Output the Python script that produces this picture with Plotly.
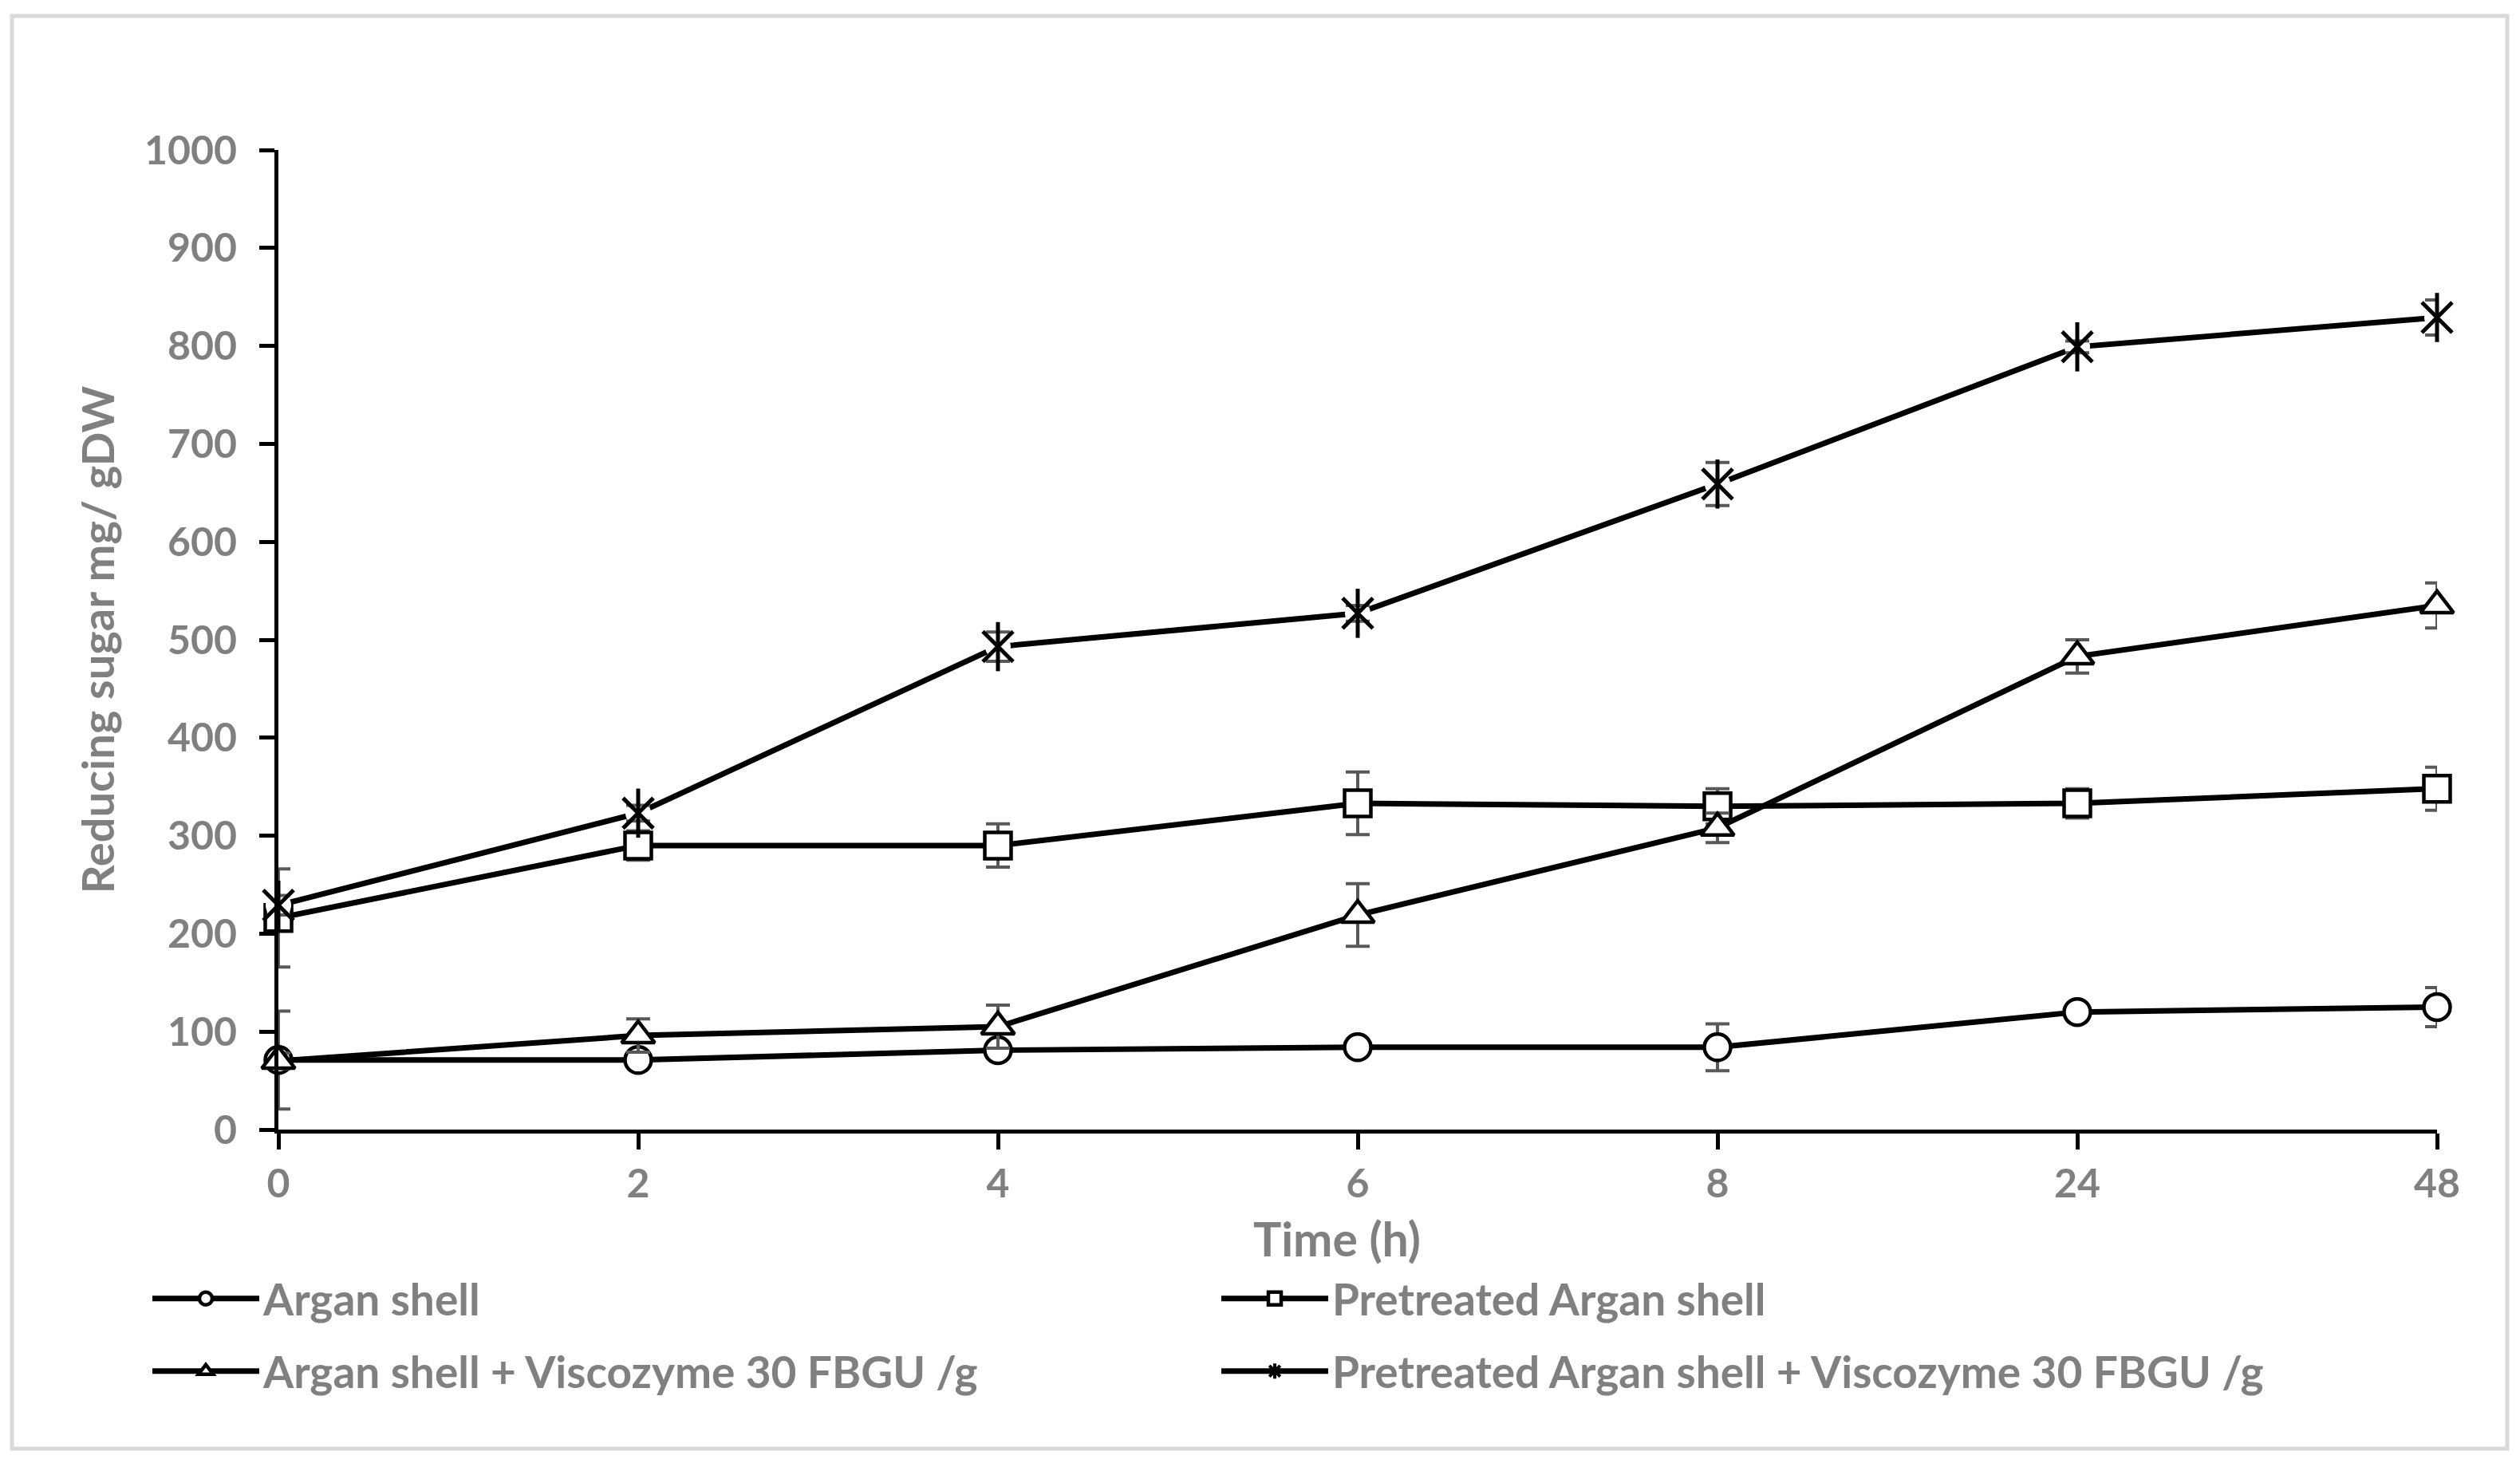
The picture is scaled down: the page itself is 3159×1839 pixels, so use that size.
import plotly.graph_objects as go

# ---- data ----
time_labels = ["0", "2", "4", "6", "8", "24", "48"]

argan = [71, 71, 81, 84, 84, 120, 125]
argan_err = [50, 6, 6, 6, 24, 6, 20]

pre_argan = [216, 290, 290, 333, 330, 333, 348]
pre_argan_err = [50, 15, 22, 32, 18, 15, 22]

argan_visc = [70, 96, 105, 219, 308, 483, 535]
argan_visc_err = [8, 17, 22, 32, 15, 17, 23]

pre_visc = [229, 323, 493, 527, 659, 799, 829]
pre_visc_err = [10, 8, 15, 8, 22, 6, 18]

names = [
    "Argan shell",
    "Pretreated Argan shell",
    "Argan shell + Viscozyme 30 FBGU /g",
    "Pretreated Argan shell + Viscozyme 30 FBGU /g",
]
x_title = "Time (h)"
y_title = "Reducing sugar mg/ gDW"

FONT = "Lato"
GRAY = "#808080"
ERR = "#595959"
LW = 7

def err(arr):
    return dict(type="data", array=arr, visible=True, color=ERR, thickness=4, width=15)

fig = go.Figure()

# open-marker series
specs = [
    (argan, argan_err, names[0], "circle", 33, "legend"),
    (pre_argan, pre_argan_err, names[1], "square", 33, "legend"),
    (argan_visc, argan_visc_err, names[2], "triangle-up", 36, "legend2"),
]
for vals, e, nm, sym, sz, lg in specs:
    fig.add_trace(go.Scatter(
        x=time_labels, y=vals, name=nm, mode="lines+markers",
        line=dict(color="black", width=LW),
        marker=dict(symbol=sym, size=sz, color="white",
                    line=dict(color="black", width=4.5)),
        error_y=err(e), cliponaxis=False, legend=lg,
    ))

# star series: line with white mask, then X + vertical bar
fig.add_trace(go.Scatter(
    x=time_labels, y=pre_visc, mode="lines+markers", showlegend=False,
    line=dict(color="black", width=LW),
    marker=dict(symbol="circle", size=32, color="white", line=dict(width=0)),
    cliponaxis=False,
))
fig.add_trace(go.Scatter(
    x=time_labels, y=pre_visc, mode="markers", showlegend=False,
    marker=dict(symbol="x-thin-open", size=38, color="black",
                line=dict(color="black", width=5)),
    error_y=err(pre_visc_err), cliponaxis=False,
))
fig.add_trace(go.Scatter(
    x=time_labels, y=pre_visc, mode="markers", showlegend=False,
    marker=dict(symbol="line-ns-open", size=44, color="black",
                line=dict(color="black", width=5)),
    cliponaxis=False,
))
# legend entry for star series
fig.add_trace(go.Scatter(
    x=[None], y=[None], mode="lines+markers", name=names[3], legend="legend2",
    line=dict(color="black", width=LW),
    marker=dict(symbol="asterisk-open", size=30, color="black",
                line=dict(color="black", width=4)),
))

# page body has an 8px margin; figure coordinates = screen - 8
OFF = 8
W, H = 3159, 1839
L, T = 349 - OFF, 188 - OFF
pw, ph = 2706, 1228
R = W - L - pw
B = H - T - ph

def px(xs):
    return (xs - OFF - L) / pw

def py(ys):
    return (T + ph - (ys - OFF)) / ph

legend_common = dict(
    orientation="h", xref="container", yref="container",
    xanchor="left", yanchor="middle",
    font=dict(family=FONT, size=55, color=GRAY, weight="bold"),
    bgcolor="rgba(0,0,0,0)", itemwidth=134, entrywidth=1191,
    entrywidthmode="pixels", traceorder="normal",
)

fig.update_layout(
    width=W, height=H,
    margin=dict(l=L, r=R, t=T, b=B, autoexpand=False),
    paper_bgcolor="white", plot_bgcolor="white",
    font=dict(family=FONT, size=50, color=GRAY, weight="bold"),
    showlegend=True,
    legend=dict(x=(186 - OFF) / W, y=1 - (1628 - OFF) / H, **legend_common),
    legend2=dict(x=(186 - OFF) / W, y=1 - (1719 - OFF) / H, **legend_common),
    xaxis=dict(
        type="category", range=[0, 6], showgrid=False, zeroline=False,
        showline=True, linecolor="black", linewidth=5,
        ticks="outside", ticklen=20, tickwidth=5, tickcolor="black",
        tickfont=dict(family=FONT, size=50, color=GRAY, weight="bold"),
    ),
    yaxis=dict(
        range=[0, 1000], dtick=100, showgrid=False, zeroline=False,
        showline=True, linecolor="black", linewidth=5,
        ticks="outside", ticklen=19, tickwidth=5, tickcolor="black",
        ticklabelstandoff=18,
        tickfont=dict(family=FONT, size=50, color=GRAY, weight="bold"),
        title=dict(text=y_title, standoff=21,
                   font=dict(family=FONT, size=56, color=GRAY, weight="bold")),
    ),
    annotations=[dict(
        text=x_title, xref="paper", yref="paper",
        x=px(1676), y=py(1552), xanchor="center", yanchor="middle",
        showarrow=False,
        font=dict(family=FONT, size=59, color=GRAY, weight="bold"),
    )],
    shapes=[dict(
        type="rect", xref="paper", yref="paper",
        x0=px(15), x1=px(3143), y0=py(1816), y1=py(20),
        line=dict(color="#d9d9d9", width=5), fillcolor="rgba(0,0,0,0)",
        layer="below",
    )],
)

fig.write_html("out.html")
